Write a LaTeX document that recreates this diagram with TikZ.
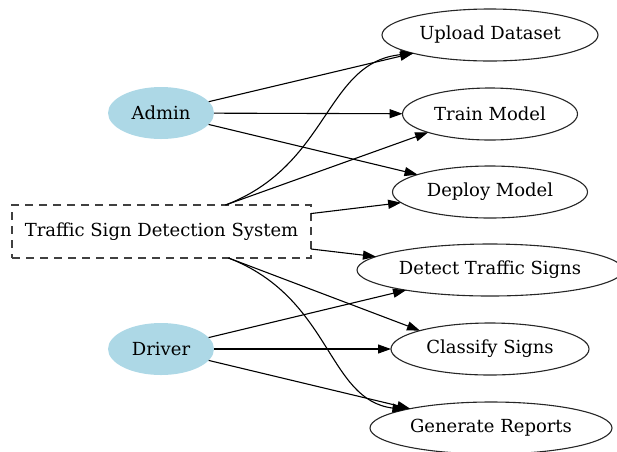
\documentclass[tikz,border=0pt]{standalone}
\usepackage{fontspec}
\setmainfont{DejaVu Serif}
\usetikzlibrary{shapes.geometric,arrows.meta}
\definecolor{actorblue}{RGB}{173,216,230}
\begin{document}
\begin{tikzpicture}[x=1pt,y=-1pt,
  every node/.style={font=\fontsize{18}{21}\selectfont, inner sep=0pt, outer sep=0pt},
  actor/.style={ellipse, fill=actorblue, minimum width=106pt, minimum height=52pt},
  usecase/.style={ellipse, draw=black!85, line width=1.1pt, minimum height=52pt},
  sysbox/.style={rectangle, draw=black!75, line width=1.2pt, dash pattern=on 8pt off 6pt, minimum width=299pt, minimum height=53pt},
  conn/.style={draw=black, line width=1.1pt, -{Triangle[length=13pt,width=9pt]}}]
\useasboundingbox (0,0) rectangle (617,451);
\node[actor] (admin) at (161,113) {Admin};
\node[actor] (driver) at (161,349) {Driver};
\node[sysbox] (sys) at (161.5,231.5) {Traffic Sign Detection System};
\node[usecase, minimum width=216pt] (upload) at (490,35) {Upload Dataset};
\node[usecase, minimum width=175pt] (train) at (490,114) {Train Model};
\node[usecase, minimum width=195pt] (deploy) at (490,192) {Deploy Model};
\node[usecase, minimum width=266pt] (detect) at (490,270) {Detect Traffic Signs};
\node[usecase, minimum width=198pt] (classify) at (490,349) {Classify Signs};
\node[usecase, minimum width=242pt] (generate) at (491,428) {Generate Reports};
\coordinate (sysTop) at ([xshift=64pt]sys.north);
\coordinate (sysBot) at ([xshift=67pt]sys.south);
\path[conn] (admin) -- (upload);
\path[conn] (admin) -- (train);
\path[conn] (admin) -- (deploy);
\path[conn] (sysTop) .. controls (330,165) and (325,62) .. (upload.south west);
\path[conn] (sysTop) -- (train.south west);
\path[conn] (sys) -- (deploy);
\path[conn] (sys) -- (detect);
\path[conn] (sysBot) -- (classify.north west);
\path[conn] (sysBot) .. controls (332,298) and (327,400) .. (generate.north west);
\path[conn] (driver) -- (detect);
\path[conn] (driver) -- (classify);
\path[conn] (driver) -- (generate);
\end{tikzpicture}
\end{document}
